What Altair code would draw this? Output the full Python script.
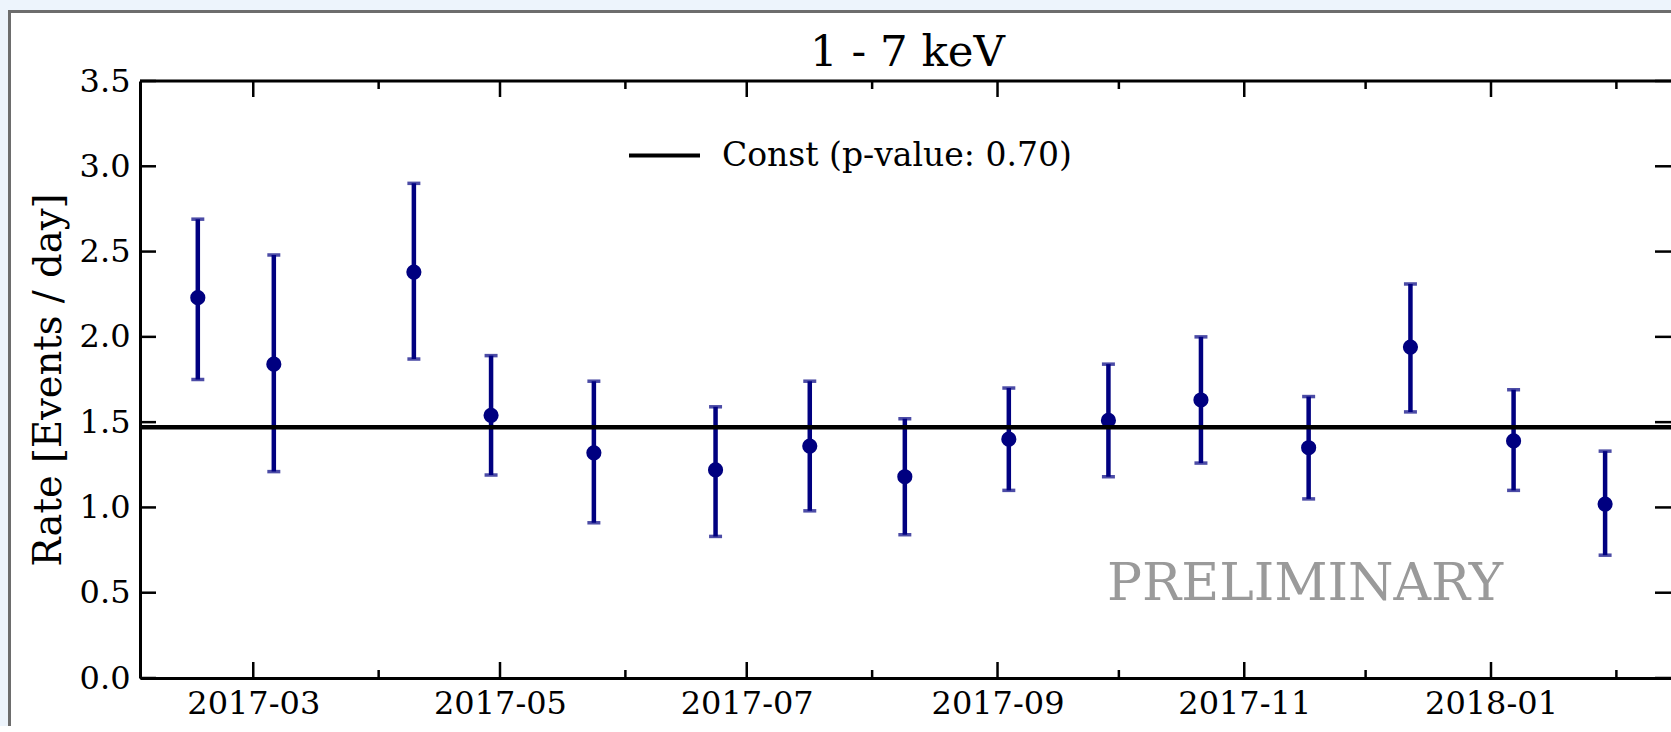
import altair as alt
import pandas as pd

# Rate per bin (1 - 7 keV): bin centre, rate and 1-sigma interval
dates = [
    "2017-02-15T07:00", "2017-03-06T02:00", "2017-04-09T17:00", "2017-04-28T19:00",
    "2017-05-24T05:00", "2017-06-23T07:00", "2017-07-16T14:00", "2017-08-09T02:00",
    "2017-09-03T19:00", "2017-09-28T10:00", "2017-10-21T07:00", "2017-11-16T22:00",
    "2017-12-12T02:00", "2018-01-06T14:00", "2018-01-29T05:00",
]
rates = [2.23, 1.84, 2.38, 1.54, 1.32, 1.22, 1.36, 1.18, 1.40, 1.51, 1.63, 1.35, 1.94, 1.39, 1.02]
rate_lo = [1.75, 1.21, 1.87, 1.19, 0.91, 0.83, 0.98, 0.84, 1.10, 1.18, 1.26, 1.05, 1.56, 1.10, 0.72]
rate_hi = [2.69, 2.48, 2.90, 1.89, 1.74, 1.59, 1.74, 1.52, 1.70, 1.84, 2.00, 1.65, 2.31, 1.69, 1.33]

# constant-rate fit
const_rate = [1.47]
const_label = ["Const (p-value: 0.70)"]

# axis ticks
major_months = ["2017-03-01T00:00", "2017-05-01T00:00", "2017-07-01T00:00",
                "2017-09-01T00:00", "2017-11-01T00:00", "2018-01-01T00:00"]
minor_months = ["2017-04-01T00:00", "2017-06-01T00:00", "2017-08-01T00:00",
                "2017-10-01T00:00", "2017-12-01T00:00", "2018-02-01T00:00"]
y_ticks = [0.0, 0.5, 1.0, 1.5, 2.0, 2.5, 3.0, 3.5]

W, H = 1531, 597
FONT = "DejaVu Serif"
NAVY = "#000080"

pts = pd.DataFrame({"date": dates, "rate": rates, "lo": rate_lo, "hi": rate_hi})
fit = pd.DataFrame({"rate": const_rate, "label": const_label})
major = pd.DataFrame({"month": major_months})
minor = pd.DataFrame({"month": minor_months})
yt = pd.DataFrame({"v": y_ticks})

def month_dt(s):
    y, m, d = s[:10].split("-")
    return alt.DateTime(year=int(y), month=int(m), date=int(d))

x_scale = alt.Scale(domain=[alt.DateTime(year=2017, month=2, date=1),
                            alt.DateTime(year=2018, month=2, date=14, hours=12)])
y_scale = alt.Scale(domain=[0, 3.5])

x_axis = alt.Axis(
    values=[month_dt(m) for m in major_months], format="%Y-%m", title=None,
    labelFont=FONT, labelFontSize=32, labelColor="black", labelPadding=10,
    ticks=False, domain=True, domainColor="black", domainWidth=3, grid=False, zindex=1,
)
y_axis = alt.Axis(
    values=y_ticks, format=".1f", title="Rate [Events / day]",
    labelFont=FONT, labelFontSize=32, labelColor="black", labelPadding=10,
    ticks=False, domain=True, domainColor="black", domainWidth=3, grid=False, zindex=1,
    titleFont=FONT, titleFontSize=38.5, titleFontWeight="normal", titleColor="black",
    titleAngle=270, titleX=-92, titleY=H / 2, titleAlign="center", titleBaseline="middle",
)

# figure frame behind the axes
frame = alt.Chart(pd.DataFrame({"k": [0]})).mark_rect(
    fill="white", stroke="#6d6d6d", strokeWidth=3
).encode(
    x=alt.value(-130.5), y=alt.value(-69.5), x2=alt.value(W + 40), y2=alt.value(H + 80)
)

bars = alt.Chart(pts).mark_rule(color=NAVY, strokeWidth=4.5).encode(
    x=alt.X("date:T", scale=x_scale, axis=x_axis),
    y=alt.Y("lo:Q", scale=y_scale, axis=y_axis),
    y2="hi:Q",
)
caps_lo = alt.Chart(pts).mark_tick(color=NAVY, orient="horizontal", size=13, thickness=3.5).encode(
    x="date:T", y="lo:Q"
)
caps_hi = alt.Chart(pts).mark_tick(color=NAVY, orient="horizontal", size=13, thickness=3.5).encode(
    x="date:T", y="hi:Q"
)
dots = alt.Chart(pts).mark_circle(color=NAVY, size=230, opacity=1).encode(
    x="date:T", y="rate:Q"
)

fit_line = alt.Chart(fit).mark_rule(strokeWidth=4.5).encode(
    y="rate:Q",
    color=alt.Color(
        "label:N", scale=alt.Scale(range=["black"]),
        legend=alt.Legend(
            title=None, orient="none", legendX=487, legendY=37, padding=0,
            symbolType="stroke", symbolSize=5041, symbolStrokeWidth=4,
            labelFont=FONT, labelFontSize=33, labelColor="black", labelOffset=20,
            labelLimit=1000,
        ),
    ),
)

# inward ticks on all four sides
tick_style = dict(color="black", strokeWidth=2.5)
maj_bot = alt.Chart(major).mark_rule(**tick_style).encode(
    x="month:T", y=alt.value(H), y2=alt.value(H - 16))
maj_top = alt.Chart(major).mark_rule(**tick_style).encode(
    x="month:T", y=alt.value(0), y2=alt.value(16))
min_bot = alt.Chart(minor).mark_rule(**tick_style).encode(
    x="month:T", y=alt.value(H), y2=alt.value(H - 8))
min_top = alt.Chart(minor).mark_rule(**tick_style).encode(
    x="month:T", y=alt.value(0), y2=alt.value(8))
y_left = alt.Chart(yt).mark_rule(**tick_style).encode(
    y="v:Q", x=alt.value(0), x2=alt.value(16))
y_right = alt.Chart(yt).mark_rule(**tick_style).encode(
    y="v:Q", x=alt.value(W - 16), x2=alt.value(W))

top_spine = alt.Chart(pd.DataFrame({"k": [0]})).mark_rule(color="black", strokeWidth=3).encode(
    x=alt.value(0), x2=alt.value(W), y=alt.value(0)
)

# panel title above the plot area
title = alt.Chart(pd.DataFrame({"t": ["1 - 7 keV"]})).mark_text(
    font=FONT, fontSize=43.5, color="black", align="center", baseline="alphabetic"
).encode(text="t:N", x=alt.value(W / 2 + 2), y=alt.value(-15))

stamp = alt.Chart(pd.DataFrame({"t": ["PRELIMINARY"]})).mark_text(
    font=FONT, fontSize=52, color="#9a9a9a", align="center", baseline="alphabetic"
).encode(text="t:N", x=alt.value(1165), y=alt.value(519))

chart = alt.layer(
    frame, bars, caps_lo, caps_hi, dots, fit_line,
    maj_bot, maj_top, min_bot, min_top, y_left, y_right, top_spine, title, stamp,
).properties(
    width=W, height=H,
    autosize=alt.AutoSizeParams(type="none"),
    padding={"left": 140, "top": 81, "right": 0, "bottom": 48},
    background="#edf4fc",
).configure_view(stroke=None)

chart.save("out.html", embed_options={"renderer": "svg", "actions": False})
